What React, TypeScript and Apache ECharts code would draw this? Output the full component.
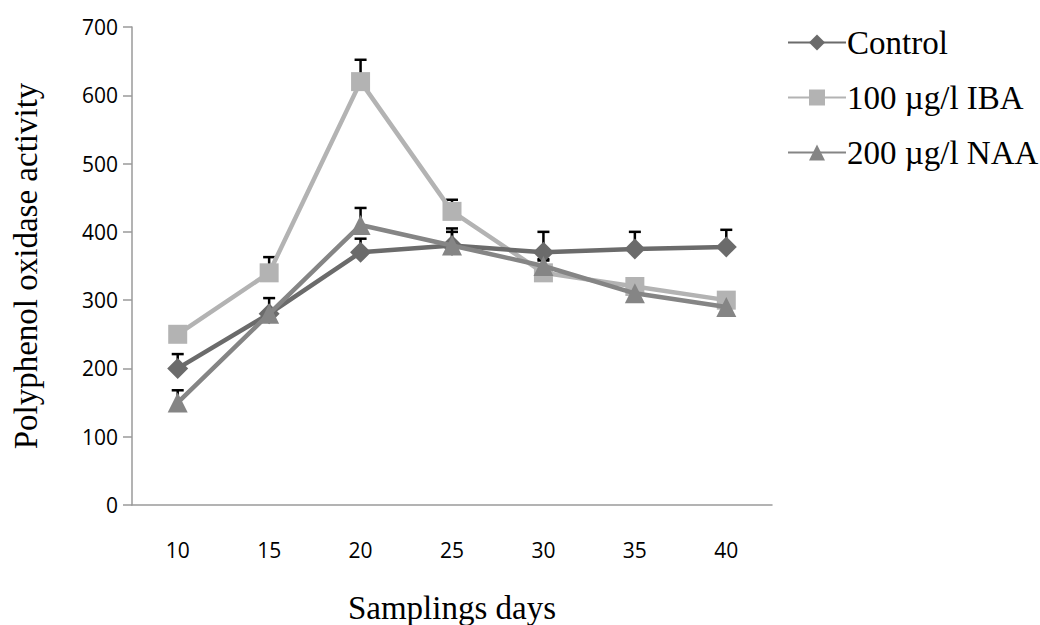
import React, { useEffect, useRef } from "react";
import * as echarts from "echarts";

const days = ["10", "15", "20", "25", "30", "35", "40"];
const yTicks = [0, 100, 200, 300, 400, 500, 600, 700];

const controlValues = [200, 280, 370, 380, 370, 375, 378];
const controlErrors = [21, 23, 20, 25, 30, 25, 25];
const ibaValues = [250, 340, 620, 430, 340, 320, 300];
const ibaErrors = [0, 23, 32, 17, 18, 0, 0];
const naaValues = [150, 280, 410, 380, 350, 310, 290];
const naaErrors = [18, 0, 25, 20, 10, 0, 0];

const seriesNames = ["Control", "100 µg/l IBA", "200 µg/l NAA"];
const seriesColors = ["#6b6b6b", "#b3b3b3", "#858585"];

function errorData(values: number[], errors: number[]) {
  return values
    .map((v, i) => [i, v, errors[i]])
    .filter((d) => d[2] > 0);
}

function errorSeries(values: number[], errors: number[], z: number) {
  return {
    type: "custom",
    z,
    silent: true,
    renderItem: (params: any, api: any) => {
      const x = api.value(0);
      const v = api.value(1);
      const e = api.value(2);
      const p0 = api.coord([x, v]);
      const p1 = api.coord([x, v + e]);
      const style = { stroke: "#000", lineWidth: 2.5 };
      return {
        type: "group",
        children: [
          { type: "line", shape: { x1: p0[0], y1: p0[1], x2: p1[0], y2: p1[1] }, style },
          { type: "line", shape: { x1: p1[0] - 6, y1: p1[1], x2: p1[0] + 6, y2: p1[1] }, style },
        ],
      };
    },
    encode: { x: 0, y: 1 },
    data: errorData(values, errors),
  };
}

export default function App() {
  const ref = useRef<HTMLDivElement>(null);
  useEffect(() => {
    if (!ref.current) return;
    const chart = echarts.init(ref.current, undefined, { renderer: "svg" });
    const axisFont = { fontFamily: "Open Sans", fontSize: 21, color: "#000" };
    const serif = { fontFamily: "Liberation Serif", fontSize: 33, color: "#000" };
    chart.setOption({
      animation: false,
      backgroundColor: "#fff",
      grid: { left: 132, right: 268, top: 27, bottom: 120, containLabel: false, outerBoundsMode: "none" },
      legend: {
        data: seriesNames,
        orient: "vertical",
        left: 782,
        top: 21,
        itemWidth: 58,
        itemHeight: 20,
        itemGap: 22,
        textStyle: { ...serif, padding: [0, 0, 0, -4] },
      },
      xAxis: {
        type: "category",
        data: days,
        boundaryGap: true,
        name: "Samplings days",
        nameLocation: "middle",
        nameGap: 86,
        nameTextStyle: serif,
        axisLine: { lineStyle: { color: "#9a9a9a", width: 1.5 } },
        axisTick: { show: false },
        axisLabel: { ...axisFont, margin: 34 },
      },
      yAxis: {
        type: "value",
        min: 0,
        max: 700,
        interval: 100,
        name: "Polyphenol oxidase activity",
        nameLocation: "middle",
        nameGap: 90,
        nameTextStyle: serif,
        axisLine: { show: true, lineStyle: { color: "#9a9a9a", width: 1.5 } },
        axisTick: { show: true, length: 9, lineStyle: { color: "#9a9a9a", width: 1.5 } },
        splitLine: { show: false },
        axisLabel: {
          ...axisFont,
          margin: 14,
          formatter: (v: number) => (yTicks.includes(v) ? String(v) : ""),
        },
      },
      series: [
        errorSeries(controlValues, controlErrors, 1),
        errorSeries(ibaValues, ibaErrors, 1),
        errorSeries(naaValues, naaErrors, 1),
        {
          name: seriesNames[0],
          type: "line",
          z: 3,
          data: controlValues,
          symbol: "diamond",
          symbolSize: 21,
          itemStyle: { color: seriesColors[0] },
          lineStyle: { color: seriesColors[0], width: 4.5 },
        },
        {
          name: seriesNames[1],
          type: "line",
          z: 2,
          data: ibaValues,
          symbol: "rect",
          symbolSize: 19,
          itemStyle: { color: seriesColors[1] },
          lineStyle: { color: seriesColors[1], width: 4.5 },
        },
        {
          name: seriesNames[2],
          type: "line",
          z: 4,
          data: naaValues,
          symbol: "triangle",
          symbolSize: 20,
          itemStyle: { color: seriesColors[2] },
          lineStyle: { color: seriesColors[2], width: 4.5 },
        },
      ],
    });
    return () => chart.dispose();
  }, []);
  return <div ref={ref} style={{ width: 1040, height: 625, position: "absolute", left: 0, top: 0 }} />;
}
